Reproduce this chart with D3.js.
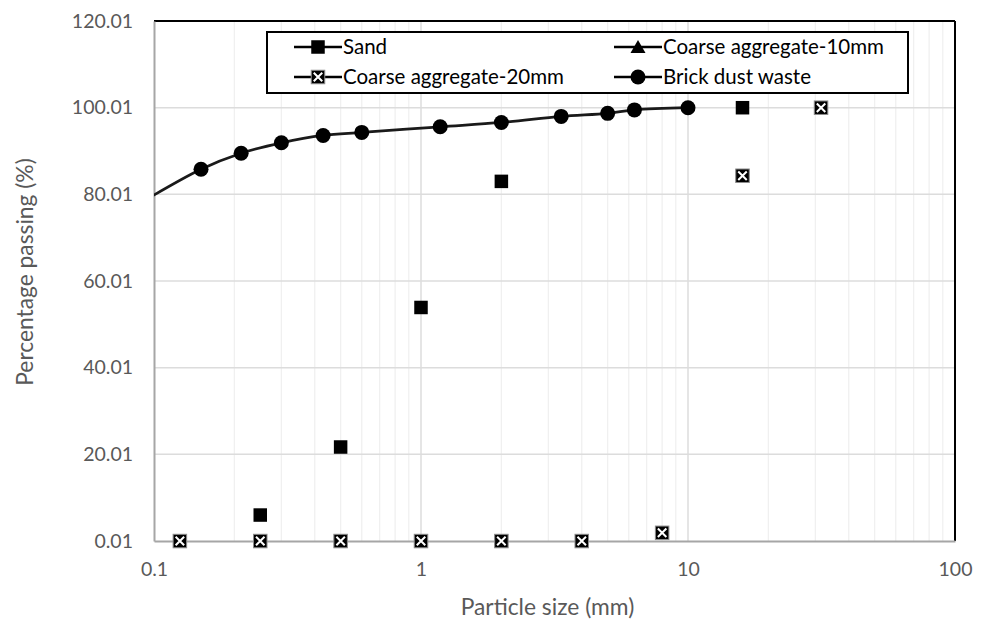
<!DOCTYPE html>
<html>
<head>
<meta charset="utf-8">
<script src="https://cdn.jsdelivr.net/npm/d3@7"></script>
<style>
  html, body { margin: 0; padding: 0; background: #fff; }
  svg { display: block; }
  text { font-family: "Lato", "Open Sans", sans-serif; }
</style>
</head>
<body>
<svg id="chart" width="984" height="621"></svg>
<script>
// ---- data ----
const sandSize = [0.25, 0.5, 1, 2, 16];
const sandPass = [6.0, 21.7, 53.9, 83.0, 100.0];

const ca10Size = [];
const ca10Pass = [];

const ca20Size = [0.125, 0.25, 0.5, 1, 2, 4, 8, 16, 31.5];
const ca20Pass = [0, 0, 0, 0, 0, 0, 1.9, 84.3, 100.0];

const brickSize = [0.075, 0.15, 0.212, 0.3, 0.43, 0.6, 1.18, 2.0, 3.35, 5.0, 6.3, 10];
const brickPass = [75.3, 85.8, 89.5, 91.9, 93.6, 94.3, 95.6, 96.6, 98.0, 98.7, 99.5, 100.0];

const xTicks = [0.1, 1, 10, 100];
const xTickLabels = ["0.1", "1", "10", "100"];
const yTicks = [0.01, 20.01, 40.01, 60.01, 80.01, 100.01, 120.01];
const yTickLabels = ["0.01", "20.01", "40.01", "60.01", "80.01", "100.01", "120.01"];

const legendLabels = ["Sand", "Coarse aggregate-10mm", "Coarse aggregate-20mm", "Brick dust waste"];

// ---- layout ----
const svg = d3.select("#chart");
const m = { left: 154, right: 955, top: 21, bottom: 541 };
const TICK_FS = "19.5px", TITLE_FS = "22.8px", LEG_FS = "20.5px";

const x = d3.scaleLog().domain([0.1, 100]).range([m.left, m.right]);
const y = d3.scaleLinear().domain([0.01, 120.01]).range([m.bottom, m.top]);

svg.append("defs").append("clipPath").attr("id", "plotClip")
  .append("rect").attr("x", m.left).attr("y", m.top - 10)
  .attr("width", m.right - m.left).attr("height", m.bottom - m.top + 20);

const minor = [];
[0.1, 1, 10].forEach(d => { for (let k = 2; k <= 9; k++) minor.push(d * k); });
svg.append("g").selectAll("line").data(minor).join("line")
  .attr("x1", d => x(d)).attr("x2", d => x(d))
  .attr("y1", m.top).attr("y2", m.bottom)
  .attr("stroke", "#f0f0f0").attr("stroke-width", 1.3);

svg.append("g").selectAll("line").data([1, 10]).join("line")
  .attr("x1", d => x(d)).attr("x2", d => x(d))
  .attr("y1", m.top).attr("y2", m.bottom)
  .attr("stroke", "#dcdcdc").attr("stroke-width", 1.5);

svg.append("g").selectAll("line").data(yTicks.slice(1)).join("line")
  .attr("x1", m.left).attr("x2", m.right)
  .attr("y1", d => y(d)).attr("y2", d => y(d))
  .attr("stroke", "#dcdcdc").attr("stroke-width", 1.5);

svg.append("line").attr("x1", m.left).attr("x2", m.right).attr("y1", m.top).attr("y2", m.top)
  .attr("stroke", "#000").attr("stroke-width", 2);
svg.append("line").attr("x1", m.right).attr("x2", m.right).attr("y1", m.top).attr("y2", m.bottom)
  .attr("stroke", "#000").attr("stroke-width", 2);

const xAxis = d3.axisBottom(x).tickValues(xTicks).tickFormat((d, i) => xTickLabels[i]).tickSize(0).tickPadding(21);
const gx = svg.append("g").attr("transform", `translate(0,${m.bottom})`).call(xAxis);
gx.select(".domain").attr("stroke", "#a6a6a6").attr("stroke-width", 2);
gx.selectAll("text").attr("fill", "#595959").style("font-size", TICK_FS);

const yAxis = d3.axisLeft(y).tickValues(yTicks).tickFormat((d, i) => yTickLabels[i]).tickSize(0).tickPadding(21);
const gy = svg.append("g").attr("transform", `translate(${m.left},0)`).call(yAxis);
gy.select(".domain").attr("stroke", "#a6a6a6").attr("stroke-width", 2);
gy.selectAll("text").attr("fill", "#595959").style("font-size", TICK_FS);

svg.append("text").attr("x", (m.left + m.right) / 2 - 7).attr("y", 615)
  .attr("text-anchor", "middle").attr("fill", "#595959").style("font-size", TITLE_FS)
  .text("Particle size (mm)");
svg.append("text").attr("transform", `translate(33,272) rotate(-90)`)
  .attr("text-anchor", "middle").attr("fill", "#595959").style("font-size", TITLE_FS)
  .text("Percentage passing (%)");

const MS = 13.5;
function square(g, cx, cy) {
  g.append("rect").attr("x", cx - MS / 2).attr("y", cy - MS / 2).attr("width", MS).attr("height", MS)
    .attr("fill", "#000");
}
function xsquare(g, cx, cy) {
  g.append("rect").attr("x", cx - MS / 2).attr("y", cy - MS / 2).attr("width", MS).attr("height", MS)
    .attr("fill", "#000").attr("stroke", "#8c8c8c").attr("stroke-width", 1);
  const h = MS / 2 - 2.5;
  g.append("path").attr("d", `M${cx - h},${cy - h}L${cx + h},${cy + h}M${cx + h},${cy - h}L${cx - h},${cy + h}`)
    .attr("stroke", "#fff").attr("stroke-width", 2);
}
function circle(g, cx, cy) {
  g.append("circle").attr("cx", cx).attr("cy", cy).attr("r", 7.5).attr("fill", "#000");
}
function triangle(g, cx, cy) {
  g.append("path").attr("d", `M${cx},${cy - 7}L${cx + 7.5},${cy + 6}L${cx - 7.5},${cy + 6}Z`).attr("fill", "#000");
}

const plot = svg.append("g").attr("clip-path", "url(#plotClip)");

const brick = brickSize.map((d, i) => [d, brickPass[i]]);
plot.append("path").datum(brick)
  .attr("d", d3.line().x(d => x(d[0])).y(d => y(d[1])).curve(d3.curveCatmullRom.alpha(0.5)))
  .attr("fill", "none").attr("stroke", "#1a1a1a").attr("stroke-width", 2.75);

const mk = plot.append("g");
brick.forEach(d => circle(mk, x(d[0]), y(d[1])));
sandSize.forEach((d, i) => square(mk, x(d), y(sandPass[i])));
ca10Size.forEach((d, i) => triangle(mk, x(d), y(ca10Pass[i])));
ca20Size.forEach((d, i) => xsquare(mk, x(d), y(ca20Pass[i])));

const lg = svg.append("g");
lg.append("rect").attr("x", 267).attr("y", 32).attr("width", 641).attr("height", 61)
  .attr("fill", "#fff").attr("stroke", "#000").attr("stroke-width", 2);
const legendPos = [[294, 47], [614, 47], [294, 77], [614, 77]];
const drawers = [square, triangle, xsquare, circle];
legendLabels.forEach((lab, i) => {
  const [lx, ly] = legendPos[i];
  lg.append("line").attr("x1", lx).attr("x2", lx + 48).attr("y1", ly).attr("y2", ly)
    .attr("stroke", "#000").attr("stroke-width", 2.5);
  drawers[i](lg, lx + 24, ly);
  lg.append("text").attr("x", lx + 49).attr("y", ly).attr("dy", "0.36em")
    .attr("fill", "#000").style("font-size", LEG_FS).text(lab);
});
</script>
</body>
</html>
